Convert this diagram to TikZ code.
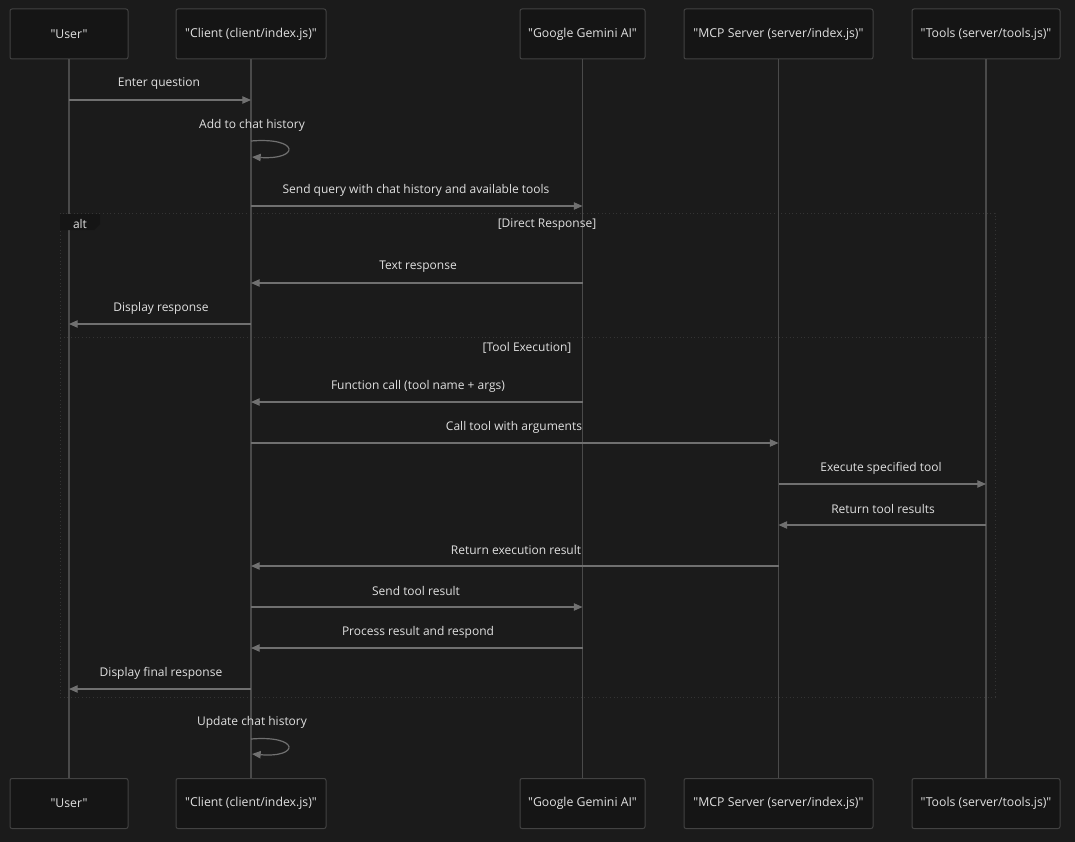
\documentclass[tikz,border=0pt]{standalone}
\usepackage{fontspec}
\setmainfont[Ligatures=TeXOff]{Open Sans}
\usetikzlibrary{arrows.meta}
\definecolor{bg}{RGB}{27,27,27}
\definecolor{boxfill}{RGB}{21,21,21}
\definecolor{boxline}{RGB}{66,66,66}
\definecolor{life}{RGB}{74,74,74}
\definecolor{msgc}{RGB}{112,112,112}
\definecolor{txt}{RGB}{224,224,224}
\definecolor{altline}{RGB}{52,52,52}
\newcommand\myq{\symbol{34}}
\begin{document}
\begin{tikzpicture}[x=0.75pt,y=-0.75pt,
  actor/.style={draw=boxline,fill=boxfill,rounded corners=1.5pt,line width=0.75pt,minimum height=37.5pt,inner sep=0pt,text=txt,font=\fontsize{9.2}{11}\selectfont},
  lifeline/.style={draw=life,line width=1.4pt},
  msg/.style={draw=msgc,line width=0.9pt,-{Triangle[length=6.5pt,width=5.5pt]}},
  lbl/.style={text=txt,font=\fontsize{9}{11}\selectfont,inner sep=0pt},
  altbox/.style={draw=altline,line width=0.75pt,dotted}]
\fill[bg] (0,0) rectangle (1075,842);
\useasboundingbox (0,0) rectangle (1075,842);
% alt frame
\draw[altbox] (60,213) rectangle (995,697);
\draw[altbox] (60,337) -- (995,337);
% actors top
\node[actor,minimum width=88.5pt] (uT) at (69,34) {\myq User\myq};
\node[actor,minimum width=112.5pt] (cT) at (251,34) {\myq Client (client/index.js)\myq};
\node[actor,minimum width=93.75pt] (gT) at (582.5,34) {\myq Google Gemini AI\myq};
\node[actor,minimum width=141.75pt] (mT) at (778.5,34) {\myq MCP Server (server/index.js)\myq};
\node[actor,minimum width=111pt] (tT) at (986,34) {\myq Tools (server/tools.js)\myq};
% actors bottom
\node[actor,minimum width=88.5pt] (uB) at (69,803.5) {\myq User\myq};
\node[actor,minimum width=112.5pt] (cB) at (251,803.5) {\myq Client (client/index.js)\myq};
\node[actor,minimum width=93.75pt] (gB) at (582.5,803.5) {\myq Google Gemini AI\myq};
\node[actor,minimum width=141.75pt] (mB) at (778.5,803.5) {\myq MCP Server (server/index.js)\myq};
\node[actor,minimum width=111pt] (tB) at (986,803.5) {\myq Tools (server/tools.js)\myq};
% lifelines
\draw[lifeline] (uT.south) -- (uB.north);
\draw[lifeline] (cT.south) -- (cB.north);
\draw[lifeline] (gT.south) -- (gB.north);
\draw[lifeline] (mT.south) -- (mB.north);
\draw[lifeline] (tT.south) -- (tB.north);
% alt label
\fill[fill=boxfill] (60,214) -- (100,214) -- (100,224) -- (94,230) -- (60,230) -- cycle;
\node[lbl] (altl) at (80,224) {alt};
\node[lbl] (g1) at (547,224.5) {[Direct Response]};
\node[lbl] (g2) at (527,347.5) {[Tool Execution]};
% messages
\node[lbl] (l1) at (159,84) {Enter question};
\draw[msg] (uT |- 0,100) -- (cT |- 0,100);
\node[lbl] (l2) at (252,125) {Add to chat history};
\coordinate (s1a) at (251,141);
\coordinate (s1b) at (252,157);
\draw[msg] (s1a) .. controls (300,137) and (300,160) .. (s1b);
\node[lbl] (l3) at (416,190) {Send query with chat history and available tools};
\draw[msg] (cT |- 0,206) -- (gT |- 0,206);
\node[lbl] (l4) at (418,267) {Text response};
\draw[msg] (gT |- 0,283) -- (cT |- 0,283);
\node[lbl] (l5) at (161,308) {Display response};
\draw[msg] (cT |- 0,324) -- (uT |- 0,324);
\node[lbl] (l6) at (418,386) {Function call (tool name + args)};
\draw[msg] (gT |- 0,402) -- (cT |- 0,402);
\node[lbl] (l7) at (514,427) {Call tool with arguments};
\draw[msg] (cT |- 0,443) -- (mT |- 0,443);
\node[lbl] (l8) at (881,468) {Execute specified tool};
\draw[msg] (mT |- 0,484) -- (tT |- 0,484);
\node[lbl] (l9) at (883,509) {Return tool results};
\draw[msg] (tT |- 0,525) -- (mT |- 0,525);
\node[lbl] (l10) at (516,550) {Return execution result};
\draw[msg] (mT |- 0,566) -- (cT |- 0,566);
\node[lbl] (l11) at (416,591) {Send tool result};
\draw[msg] (cT |- 0,607) -- (gT |- 0,607);
\node[lbl] (l12) at (418,632) {Process result and respond};
\draw[msg] (gT |- 0,648) -- (cT |- 0,648);
\node[lbl] (l13) at (161,673) {Display final response};
\draw[msg] (cT |- 0,689) -- (uT |- 0,689);
\node[lbl] (l14) at (252,722) {Update chat history};
\coordinate (s2a) at (251,739);
\coordinate (s2b) at (252,754);
\draw[msg] (s2a) .. controls (300,735) and (300,758) .. (s2b);
\end{tikzpicture}
\end{document}
